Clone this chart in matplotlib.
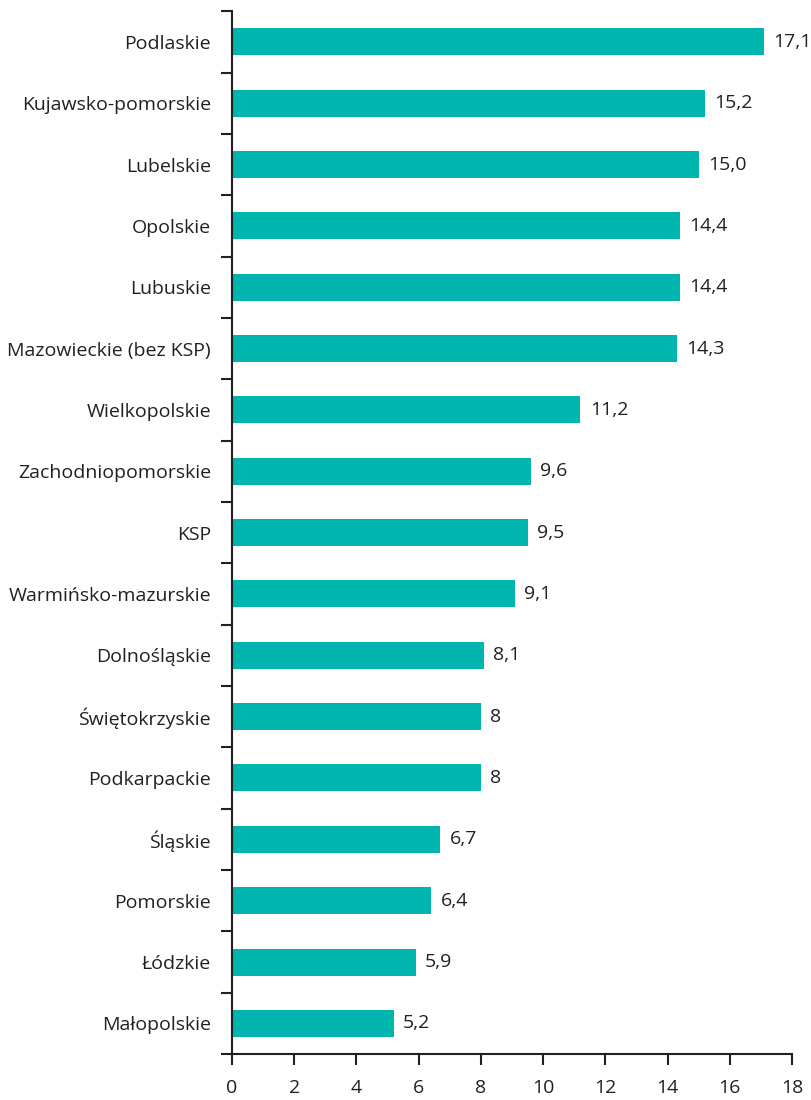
import matplotlib.pyplot as plt
from matplotlib.ticker import FixedLocator

regions = ["Podlaskie", "Kujawsko-pomorskie", "Lubelskie", "Opolskie", "Lubuskie",
           "Mazowieckie (bez KSP)", "Wielkopolskie", "Zachodniopomorskie", "KSP",
           "Warmińsko-mazurskie", "Dolnośląskie", "Świętokrzyskie", "Podkarpackie",
           "Śląskie", "Pomorskie", "Łódzkie", "Małopolskie"]
values = [17.1, 15.2, 15.0, 14.4, 14.4, 14.3, 11.2, 9.6, 9.5, 9.1, 8.1, 8, 8,
          6.7, 6.4, 5.9, 5.2]
value_labels = ["17,1", "15,2", "15,0", "14,4", "14,4", "14,3", "11,2", "9,6", "9,5",
                "9,1", "8,1", "8", "8", "6,7", "6,4", "5,9", "5,2"]

plt.rcParams['font.family'] = ['Open Sans', 'DejaVu Sans']
dark = "#231f20"
teal = "#00b5ad"

fig = plt.figure(figsize=(8.11, 11), dpi=100)
ax = fig.add_axes([0.286, 0.0418, 0.6906, 0.948])

pos = list(range(len(regions)))[::-1]
ax.barh(pos, values, height=0.44, color=teal)

for p, v, lab in zip(pos, values, value_labels):
    ax.text(v + 0.3, p, lab, va="center", ha="left", fontsize=14, color=dark)

ax.set_xlim(0, 18)
ax.set_ylim(-0.5, len(regions) - 0.5)
ax.set_xticks(range(0, 19, 2))
ax.set_yticks(pos)
ax.set_yticklabels(regions)
ax.yaxis.set_minor_locator(FixedLocator([i - 0.5 for i in range(len(regions) + 1)]))

ax.tick_params(axis="y", which="major", length=0, pad=15, labelsize=14, labelcolor=dark)
ax.tick_params(axis="y", which="minor", length=8, width=1.5, color=dark)
ax.tick_params(axis="x", which="major", length=8, width=1.5, color=dark,
               labelsize=14, labelcolor=dark, pad=10)

for s in ["top", "right"]:
    ax.spines[s].set_visible(False)
for s in ["left", "bottom"]:
    ax.spines[s].set_linewidth(1.5)
    ax.spines[s].set_color(dark)

fig.savefig("out.png", dpi=100)
